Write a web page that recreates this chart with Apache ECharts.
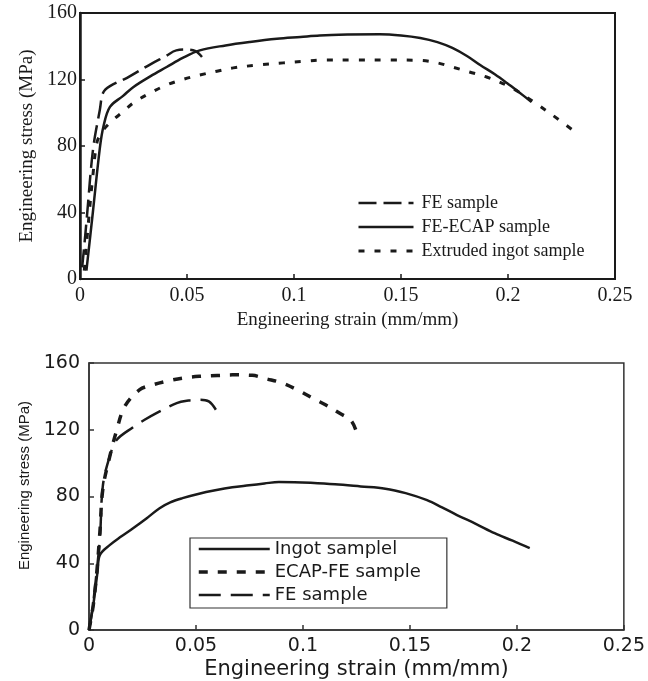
<!DOCTYPE html>
<html>
<head>
<meta charset="utf-8">
<script src="https://cdn.jsdelivr.net/npm/echarts@6/dist/echarts.min.js"></script>
<style>
html,body{margin:0;padding:0;background:#fff;}
#chart{width:648px;height:681px;}
</style>
</head>
<body>
<div id="chart"></div>
<script>
// ---- tick labels ----
const xTickLabels = ['0', '0.05', '0.1', '0.15', '0.2', '0.25'];
const yTickLabels = ['0', '40', '80', '120', '160'];

// ---- top panel: [strain, stress] ----
const topFE = [[0.001,7],[0.002,20],[0.0032,37],[0.0061,78],[0.0093,102],[0.0108,112],[0.014,116],[0.022,121],[0.0327,129],[0.040,134],[0.045,137.5],[0.050,138],[0.054,137],[0.057,133.5]];
const topFEECAP = [[0.003,5],[0.006,40],[0.0093,79],[0.011,92],[0.014,103.5],[0.02,110],[0.025,115.5],[0.033,122],[0.0405,127.5],[0.048,133],[0.056,137.5],[0.068,140.5],[0.0794,142.6],[0.092,144.5],[0.103,145.6],[0.112,146.5],[0.125,147],[0.14,147.2],[0.15,146.5],[0.159,145],[0.167,142.5],[0.174,139],[0.181,134],[0.187,128.7],[0.194,123],[0.1995,117.9],[0.205,112.5],[0.211,106.5]];
const topExtruded = [[0.002,5],[0.004,35],[0.006,62],[0.0079,82],[0.01,88],[0.014,94],[0.02,100.5],[0.025,106],[0.033,112],[0.0405,116.7],[0.048,120],[0.056,122.7],[0.064,125],[0.0716,127],[0.083,128.7],[0.095,130],[0.105,131],[0.1136,131.7],[0.128,131.7],[0.145,131.7],[0.159,131.5],[0.167,130],[0.174,127.5],[0.182,124.5],[0.190,121.5],[0.201,115.5],[0.212,106.5],[0.224,95.6],[0.232,87.8]];

// ---- bottom panel: [strain, stress] ----
const botIngot = [[0,0],[0.002,15],[0.004,35],[0.0051,45],[0.0098,51],[0.015,56],[0.0206,61],[0.027,67],[0.033,73],[0.038,76.5],[0.0437,79],[0.051,81.5],[0.059,83.7],[0.067,85.5],[0.0748,86.7],[0.082,87.8],[0.0888,88.7],[0.096,88.6],[0.1036,88.2],[0.115,87.3],[0.127,86],[0.1385,84.7],[0.148,82],[0.158,77.8],[0.165,73.5],[0.172,68.9],[0.181,63.5],[0.1896,58],[0.198,53.5],[0.206,49]];
const botECAPFE = [[0,0],[0.002,15],[0.0037,35.5],[0.0051,59],[0.0065,84.7],[0.0098,104.5],[0.013,120],[0.0167,134],[0.0237,144],[0.03,147],[0.036,149],[0.044,151],[0.0516,152],[0.06,152.5],[0.067,152.9],[0.0763,152.6],[0.083,150.5],[0.0903,148],[0.098,143.5],[0.106,138],[0.1105,135],[0.117,130],[0.1228,125],[0.126,114.4]];
const botFE = [[0,0],[0.0015,12],[0.0028,25.5],[0.0051,55],[0.0065,86.7],[0.0098,104.5],[0.013,114],[0.0206,121.5],[0.026,126],[0.0315,130],[0.041,136],[0.0465,137.5],[0.0516,138],[0.056,137],[0.0593,132]];

const topNames = ['FE sample', 'FE-ECAP sample', 'Extruded ingot sample'];
const botNames = ['Ingot samplel', 'ECAP-FE sample', 'FE sample '];

const serif = "'Liberation Serif', 'Times New Roman', serif";
const sans = "'DejaVu Sans', sans-serif";
const sans2 = "'Liberation Sans', Arial, sans-serif";
const ink = '#1a1a1a';

function xFmt(v){ return xTickLabels[Math.round(v / 0.05)]; }
function yFmt(v){ return yTickLabels[Math.round(v / 40)]; }

function lineSeries(name, xi, data, width, type){
  return {name: name, type: 'line', xAxisIndex: xi, yAxisIndex: xi, data: data,
    showSymbol: false, symbol: 'none', smooth: 0.35,
    itemStyle: {color: ink},
    lineStyle: {color: ink, width: width, type: type, join: 'round', cap: 'butt'}};
}

const chart = echarts.init(document.getElementById('chart'));
chart.setOption({
  backgroundColor: '#fff',
  animation: false,
  grid: [
    {left: 80, top: 13, width: 535, height: 266, show: true, borderColor: ink, borderWidth: 2, backgroundColor: 'transparent'},
    {left: 89, top: 363, width: 538, height: 270, show: true, borderColor: '#333', borderWidth: 1.5, backgroundColor: 'transparent'}
  ],
  xAxis: [
    {gridIndex: 0, type: 'value', min: 0, max: 0.25, interval: 0.05,
     name: 'Engineering strain (mm/mm)', nameLocation: 'middle', nameGap: 32,
     nameTextStyle: {fontFamily: serif, fontSize: 19, color: ink},
     axisLine: {lineStyle: {color: ink, width: 2}},
     axisTick: {inside: true, length: 5, lineStyle: {color: ink, width: 1.5}},
     axisLabel: {formatter: xFmt, fontFamily: serif, fontSize: 20, color: ink, margin: 7},
     splitLine: {show: false}},
    {gridIndex: 1, type: 'value', min: 0, max: 0.25, interval: 0.05,
     name: 'Engineering strain (mm/mm)', nameLocation: 'middle', nameGap: 29,
     nameTextStyle: {fontFamily: sans, fontSize: 21, color: ink},
     axisLine: {lineStyle: {color: '#333', width: 1.5}},
     axisTick: {inside: true, length: 5, lineStyle: {color: '#333', width: 1.5}},
     axisLabel: {formatter: xFmt, fontFamily: sans, fontSize: 19, color: ink, margin: 7},
     splitLine: {show: false}}
  ],
  yAxis: [
    {gridIndex: 0, type: 'value', min: 0, max: 160, interval: 40,
     name: 'Engineering stress (MPa)', nameLocation: 'middle', nameGap: 38,
     nameTextStyle: {fontFamily: serif, fontSize: 19, color: ink},
     axisLine: {lineStyle: {color: ink, width: 2.5}},
     axisTick: {inside: true, length: 5, lineStyle: {color: ink, width: 1.5}},
     axisLabel: {formatter: yFmt, fontFamily: serif, fontSize: 20, color: ink, margin: 3},
     splitLine: {show: false}},
    {gridIndex: 1, type: 'value', min: 0, max: 160, interval: 40,
     name: 'Engineering stress (MPa)', nameLocation: 'middle', nameGap: 56,
     nameTextStyle: {fontFamily: sans2, fontSize: 15, color: ink, padding: [0, 0, 0, 22]},
     axisLine: {lineStyle: {color: '#333', width: 1.5}},
     axisTick: {inside: true, length: 5, lineStyle: {color: '#333', width: 1.5}},
     axisLabel: {formatter: yFmt, fontFamily: sans, fontSize: 19, color: ink, margin: 9},
     splitLine: {show: false}}
  ],
  legend: [
    {data: topNames, orient: 'vertical', left: 357, top: 194, padding: 0,
     itemWidth: 55, itemHeight: 18, itemGap: 6, selectedMode: false,
     itemStyle: {opacity: 0},
     lineStyle: {width: 'inherit', opacity: 1},
     textStyle: {fontFamily: serif, fontSize: 18, color: ink, padding: [0, 0, 0, 3]}},
    {data: botNames, orient: 'vertical', left: 190, top: 538, padding: [2, 26, 4, 7],
     borderColor: '#333', borderWidth: 1.2,
     itemWidth: 71, itemHeight: 18, itemGap: 5, selectedMode: false,
     itemStyle: {opacity: 0},
     lineStyle: {width: 'inherit', opacity: 1},
     textStyle: {fontFamily: sans, fontSize: 18, color: ink}}
  ],
  series: [
    lineSeries(topNames[0], 0, topFE, 2.5, [18, 7]),
    lineSeries(topNames[1], 0, topFEECAP, 2.5, 'solid'),
    lineSeries(topNames[2], 0, topExtruded, 3, [6, 10]),
    lineSeries(botNames[0], 1, botIngot, 2.5, 'solid'),
    lineSeries(botNames[1], 1, botECAPFE, 3.5, [9, 10]),
    lineSeries(botNames[2], 1, botFE, 2.5, [22, 10])
  ]
});
</script>
</body>
</html>
